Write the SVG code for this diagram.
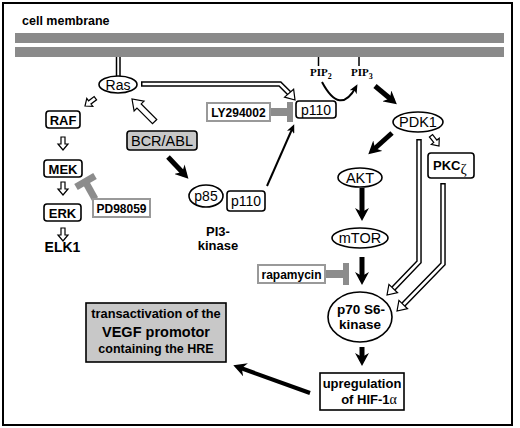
<svg xmlns="http://www.w3.org/2000/svg" xmlns:xlink="http://www.w3.org/1999/xlink" width="520" height="428" viewBox="0 0 520 428">
<style>
text{font-family:"Liberation Sans",Arial,sans-serif;fill:#000;text-anchor:middle}
.b{font-weight:bold}
.box{fill:#fff;stroke:#000;stroke-width:1.6}
.gbox{fill:#c8c8c8;stroke:#000;stroke-width:1.6}
.ibox{fill:#fff;stroke:#999;stroke-width:2}
.inh{stroke:#8c8c8c;fill:none}
.thick{stroke:#000;stroke-width:5;fill:none;marker-end:url(#chev)}
.thin{stroke:#000;stroke-width:2;fill:none;marker-end:url(#sm)}
.dlo{stroke:#000;stroke-width:5.5;fill:none;stroke-linejoin:miter}
.dli{stroke:#fff;stroke-width:2.6;fill:none;stroke-linejoin:miter}
.hol{fill:#fff;stroke:#000;stroke-width:1.2;stroke-linejoin:miter}
</style>
<defs>
<marker id="chev" markerUnits="userSpaceOnUse" markerWidth="13" markerHeight="14" refX="8" refY="7" orient="auto"><path d="M0,0 L13,7 L0,14 L4,7 Z" fill="#000"/></marker>
<marker id="sm" markerUnits="userSpaceOnUse" markerWidth="9" markerHeight="8" refX="6" refY="4" orient="auto"><path d="M0,0 L9,4 L0,8 L2.5,4 Z" fill="#000"/></marker>
<path id="ha" d="M-2,-13 L2,-13 L2,-6 L5,-6 L0,0 L-5,-6 L-2,-6 Z"/>
<path id="hab" d="M-3,-32 L3,-32 L3,-10 L7,-10 L0,0 L-7,-10 L-3,-10 Z"/>
<path id="hh" d="M0,0 L-6,-9 L6,-9 Z"/>
</defs>
<rect x="3" y="3" width="509" height="422" fill="#fff" stroke="#000" stroke-width="2"/>
<text x="22" y="25" class="b" style="text-anchor:start;font-size:12.5px">cell membrane</text>
<g id="membrane">
<rect x="15" y="33" width="489" height="10" fill="#8a8a8a"/>
<rect x="15" y="47" width="489" height="10" fill="#8a8a8a"/>
</g>
<g id="connectors">
<line x1="116.5" y1="57" x2="116.5" y2="76" stroke="#000" stroke-width="1.5"/>
<line x1="120" y1="57" x2="120" y2="76" stroke="#000" stroke-width="1.5"/>
<line x1="318.5" y1="57" x2="318.5" y2="66" stroke="#000" stroke-width="1.5"/>
<line x1="359" y1="57" x2="359" y2="66" stroke="#000" stroke-width="1.5"/>
<path class="thin" d="M322,82 Q340,116 356,87"/>
<path class="thick" d="M375,86 L393,101"/>
<path class="thick" d="M392,133 L372,151"/>
<path class="thick" d="M362,188 L362,216"/>
<path class="thick" d="M362,257 L362,280"/>
<path class="thick" d="M168,157 L185,175"/>
<path class="thick" d="M362,347 L362,361"/>
<path class="thick" style="stroke-width:4" d="M310,393 L238,367"/>
<path class="thin" d="M267,186 L293,127"/>
<path class="dlo" d="M141,84 L280,84 L289.5,93.5"/>
<path class="dli" d="M142.5,84 L280,84 L289.5,93.5"/>
<use href="#hh" class="hol" transform="translate(295,100) rotate(-41)"/>
<path class="dlo" d="M419,139 L419,262 L393,289"/>
<path class="dli" d="M419,140.5 L419,262 L393,289"/>
<use href="#hh" class="hol" transform="translate(387,295) rotate(44)"/>
<path class="dlo" d="M443,183 L443,264 L403,305"/>
<path class="dli" d="M443,184.5 L443,264 L403,305"/>
<use href="#hh" class="hol" transform="translate(397,311) rotate(44)"/>
<use href="#ha" class="hol" transform="translate(85,106) rotate(53)"/>
<use href="#ha" class="hol" transform="translate(63,150)"/>
<use href="#ha" class="hol" transform="translate(63,195)"/>
<use href="#ha" class="hol" transform="translate(63,241)"/>
<use href="#ha" class="hol" transform="translate(439,146) rotate(-38)"/>
<use href="#hab" class="hol" transform="translate(132,99) rotate(135)"/>
<line class="inh" x1="270" y1="112" x2="288" y2="112" stroke-width="8"/>
<rect x="287" y="102" width="6" height="20" fill="#8c8c8c"/>
<line class="inh" x1="325" y1="274" x2="344" y2="274" stroke-width="8"/>
<rect x="343" y="263" width="6" height="22" fill="#8c8c8c"/>
<line class="inh" x1="85" y1="181" x2="95" y2="199" stroke-width="7"/>
<line class="inh" x1="76" y1="187" x2="95" y2="176" stroke-width="7"/>
</g>
<g id="ras"><ellipse cx="118" cy="84.5" rx="19" ry="8.5" class="box"/><text x="118" y="89.5" style="font-size:14px">Ras</text></g>
<g id="raf"><rect x="46" y="111" width="34" height="17" rx="3" class="box"/><text x="63" y="124.5" class="b" style="font-size:13px">RAF</text></g>
<g id="mek"><rect x="44" y="160" width="38" height="17" rx="3" class="box"/><text x="63" y="173.5" class="b" style="font-size:13px">MEK</text></g>
<g id="erk"><rect x="44" y="204" width="37" height="17" rx="3" class="box"/><text x="62.5" y="217.5" class="b" style="font-size:13px">ERK</text></g>
<g id="elk1"><text x="62.5" y="252" class="b" style="font-size:14px">ELK1</text></g>
<g id="pd98059"><rect x="93" y="199" width="57" height="18" class="ibox"/><text x="121.5" y="212.5" class="b" style="font-size:12px">PD98059</text></g>
<g id="bcrabl"><rect x="127" y="131" width="70" height="19" rx="3" class="gbox"/><text x="162" y="145.5" style="font-size:14.5px">BCR/ABL</text></g>
<g id="pi3k">
<ellipse cx="206" cy="196" rx="17" ry="11" class="box"/><text x="206" y="201" style="font-size:14px">p85</text>
<rect x="227" y="191" width="38" height="20" rx="3" class="box"/><text x="246" y="206" style="font-size:14px">p110</text>
<text x="218" y="236" class="b" style="font-size:13px">PI3-</text>
<text x="218" y="250" class="b" style="font-size:13px">kinase</text>
</g>
<g id="ly294002"><rect x="207" y="103" width="63" height="18" class="ibox"/><text x="238.5" y="116.5" class="b" style="font-size:12px">LY294002</text></g>
<g id="p110"><rect x="296" y="101" width="40" height="17" rx="3" class="box"/><text x="316" y="114.5" style="font-size:14px">p110</text></g>
<g id="pip2"><text x="310" y="76" class="b" style="text-anchor:start;font-family:'Liberation Serif',serif;font-size:11px">PIP<tspan dy="3" style="font-size:8px">2</tspan></text></g>
<g id="pip3"><text x="351" y="76" class="b" style="text-anchor:start;font-family:'Liberation Serif',serif;font-size:11px">PIP<tspan dy="3" style="font-size:8px">3</tspan></text></g>
<g id="pdk1"><ellipse cx="418" cy="122" rx="25" ry="10" class="box"/><text x="418" y="127" style="font-size:14.5px">PDK1</text></g>
<g id="pkcz"><rect x="428" y="153" width="46" height="25" rx="3" class="box"/><text x="433" y="170" class="b" style="text-anchor:start;font-size:13px">PKC<tspan dy="4" style="font-family:'Liberation Serif',serif;font-weight:normal;font-size:15px">ζ</tspan></text></g>
<g id="akt"><ellipse cx="360" cy="177.5" rx="22" ry="9.5" class="box"/><text x="360" y="182.5" style="font-size:14.5px">AKT</text></g>
<g id="mtor"><ellipse cx="360" cy="238" rx="28" ry="10" class="box"/><text x="360" y="243" style="font-size:14.5px">mTOR</text></g>
<g id="rapamycin"><rect x="258" y="265" width="67" height="18" class="ibox"/><text x="291.5" y="278.5" class="b" style="font-size:12px">rapamycin</text></g>
<g id="p70"><ellipse cx="360" cy="317" rx="32" ry="25" class="box"/><text x="361" y="314" class="b" style="font-size:13.5px">p70 S6-</text><text x="360" y="329" class="b" style="font-size:13.5px">kinase</text></g>
<g id="hif"><rect x="320" y="373" width="84" height="37" class="box"/><text x="362" y="388" class="b" style="font-size:13px">upregulation</text><text x="369" y="404" class="b" style="font-size:13px">of HIF-1<tspan style="font-family:'Liberation Serif',serif;font-weight:normal;font-size:14px">α</tspan></text></g>
<g id="vegf"><rect x="86" y="303" width="140" height="59" class="gbox"/>
<text x="156" y="318" class="b" style="font-size:12.8px">transactivation of the</text>
<text x="156" y="337" class="b" style="font-size:14.5px">VEGF promotor</text>
<text x="156" y="353" class="b" style="font-size:12.5px">containing the HRE</text></g>
</svg>
